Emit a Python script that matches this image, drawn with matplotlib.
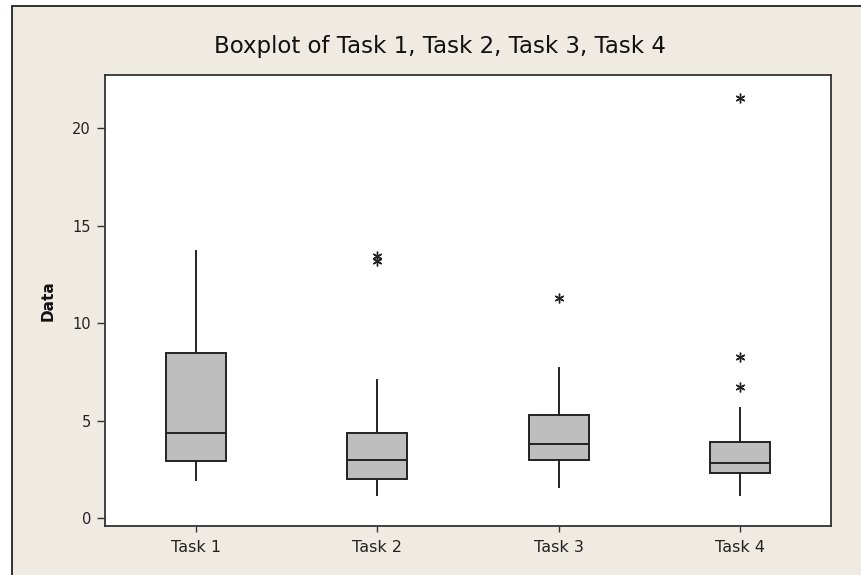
import matplotlib
matplotlib.use("Agg")
import matplotlib.pyplot as plt
from matplotlib.patches import Rectangle

# ---- data ----
categories = ["Task 1", "Task 2", "Task 3", "Task 4"]
whisker_low = [1.96, 1.19, 1.59, 1.19]
q1 = [2.92, 2.01, 2.99, 2.31]
median = [4.37, 2.99, 3.83, 2.84]
q3 = [8.46, 4.37, 5.30, 3.90]
whisker_high = [13.72, 7.08, 7.69, 5.64]
outliers = [[], [13.19, 13.45], [11.28], [6.75, 8.29, 21.54]]

title = "Boxplot of Task 1, Task 2, Task 3, Task 4"
y_label = "Data"
y_ticks = [0, 5, 10, 15, 20]

W, H = 862, 575
fig = plt.figure(figsize=(W / 100, H / 100), dpi=100, facecolor="white")

bg = "#EFEBE2"
frame = Rectangle((12 / W, -0.1), 1.2, 1 - 6 / H + 0.1, transform=fig.transFigure,
                  facecolor=bg, edgecolor="#222222", linewidth=1.3, zorder=-10)
fig.patches.append(frame)

ax = fig.add_axes([105 / W, 1 - 525.7 / H, 726 / W, (525.7 - 75) / H])
ax.set_zorder(1)
ax.set_facecolor("white")

stats = []
for i, name in enumerate(categories):
    stats.append(dict(label=name, whislo=whisker_low[i], q1=q1[i], med=median[i],
                      q3=q3[i], whishi=whisker_high[i], fliers=outliers[i]))

ax.bxp(stats, positions=[1, 2, 3, 4], widths=0.33, patch_artist=True,
       showcaps=False,
       boxprops=dict(facecolor="#BEBEBE", edgecolor="#222222", linewidth=1.4),
       medianprops=dict(color="#222222", linewidth=1.4),
       whiskerprops=dict(color="#222222", linewidth=1.4),
       flierprops=dict(marker=(6, 2, 0), markersize=7, markeredgecolor="#222222",
                       markerfacecolor="none", markeredgewidth=1.0, linestyle="none"))

ax.set_xlim(0.5, 4.5)
ax.set_ylim(-0.38, 22.73)
ax.set_yticks(y_ticks)
ax.set_yticklabels([str(t) for t in y_ticks])
ax.set_xticks([1, 2, 3, 4])
ax.set_xticklabels(categories)

for s in ax.spines.values():
    s.set_color("#333333")
    s.set_linewidth(1.3)

ax.tick_params(axis="y", direction="out", length=6, width=1.0, pad=4,
               labelsize=10.5, colors="#333333", labelcolor="#222222")
ax.tick_params(axis="x", direction="out", length=4, width=1.0, pad=6,
               labelsize=11.5, colors="#333333", labelcolor="#222222")

ax.set_ylabel(y_label, fontsize=11, fontweight="bold", color="#111111")
ax.yaxis.set_label_coords(-0.068, 0.5)

fig.text(440 / W, 1 - 47 / H, title, ha="center", va="center", fontsize=16.5,
         color="#111111")

fig.savefig("out.png", dpi=100, facecolor=fig.get_facecolor())
